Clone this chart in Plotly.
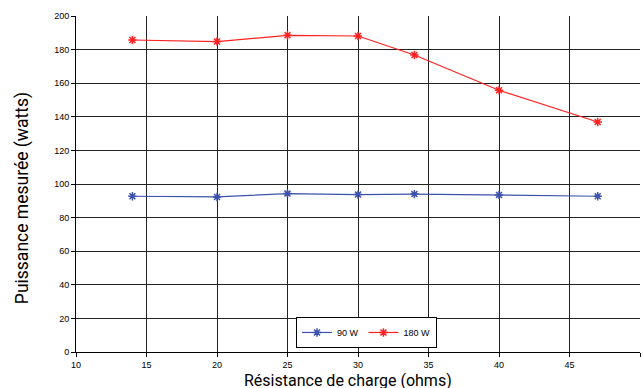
import plotly.graph_objects as go

resistance = [14, 20, 25, 30, 34, 40, 47]
p90 = [92.7, 92.3, 94.3, 93.7, 94.0, 93.5, 92.7]
p180 = [185.7, 184.8, 188.5, 188.1, 176.8, 155.8, 136.9]
x_ticks = [10, 15, 20, 25, 30, 35, 40, 45, 50]
y_ticks = [0, 20, 40, 60, 80, 100, 120, 140, 160, 180, 200]

fig = go.Figure()
fig.add_trace(go.Scatter(x=resistance, y=p90, name="90 W", mode="lines+markers",
                         line=dict(color="#3b51ab", width=1.2),
                         marker=dict(symbol="asterisk-open", size=7, color="#3b51ab",
                                     line=dict(color="#3b51ab", width=1.5))))
fig.add_trace(go.Scatter(x=resistance, y=p180, name="180 W", mode="lines+markers",
                         line=dict(color="#ff2020", width=1.2),
                         marker=dict(symbol="asterisk-open", size=7, color="#ff2020",
                                     line=dict(color="#ff2020", width=1.5))))

fig.update_layout(
    width=643, height=388,
    margin=dict(l=76, r=3, t=16, b=36),
    paper_bgcolor="white", plot_bgcolor="white",
    font=dict(family="Liberation Sans, Arial, sans-serif", size=9, color="black"),
    showlegend=True,
    legend=dict(orientation="h", x=0.39, y=0.012, xanchor="left", yanchor="bottom",
                bgcolor="white", bordercolor="black", borderwidth=1,
                font=dict(size=9), itemwidth=30, tracegroupgap=0),
    annotations=[
        dict(text="Résistance de charge (ohms)", xref="paper", yref="paper",
             x=0.482, y=-0.052, xanchor="center", yanchor="top", showarrow=False,
             font=dict(family="Roboto, Liberation Sans, Arial, sans-serif", size=16, color="black")),
        dict(text="Puissance mesurée (watts)", xref="paper", yref="paper",
             x=-0.0957, y=0.458, xanchor="center", yanchor="middle", showarrow=False,
             textangle=-90,
             font=dict(family="Roboto, Liberation Sans, Arial, sans-serif", size=17.5, color="black")),
    ],
)
fig.update_xaxes(range=[10, 50], tickvals=x_ticks, showgrid=True, gridcolor="#222",
                 gridwidth=1, showline=True, linecolor="black", linewidth=1,
                 ticks="outside", ticklen=4, tickcolor="black", zeroline=False)
fig.update_yaxes(range=[0, 200], tickvals=y_ticks, showgrid=True, gridcolor="#222",
                 gridwidth=1, showline=True, linecolor="black", linewidth=1,
                 ticks="outside", ticklen=4, tickcolor="black", zeroline=False)

fig.write_html("out.html", config={"displayModeBar": False},
               post_script="document.body.style.margin='0';document.body.style.overflow='hidden';")
